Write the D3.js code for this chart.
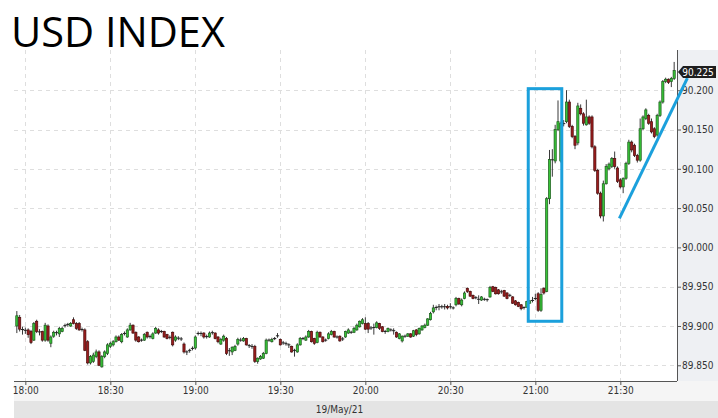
<!DOCTYPE html>
<html><head><meta charset="utf-8">
<script src="https://cdn.jsdelivr.net/npm/d3@7"></script>
<style>body{margin:0;background:#fff;overflow:hidden;} svg{display:block;}</style>
</head><body><svg id="c" width="718" height="418"></svg>
<script>
const title = "USD INDEX";
const dateLabel = "19/May/21";
const startTime = "2021-05-19T17:57:00";
const opens = [
89.900,89.911,89.896,89.895,89.895,89.893,89.882,89.906,89.893,89.893,
89.882,89.900,89.878,89.887,89.892,89.890,89.893,89.900,89.902,89.900,
89.908,89.903,89.903,89.896,89.895,89.880,89.853,89.855,89.861,89.867,
89.848,89.861,89.865,89.874,89.876,89.880,89.886,89.880,89.890,89.886,
89.895,89.901,89.892,89.886,89.882,89.882,89.892,89.886,89.884,89.891,
89.895,89.893,89.893,89.889,89.886,89.892,89.882,89.884,89.884,89.877,
89.867,89.869,89.871,89.872,89.890,89.891,89.891,89.886,89.886,89.891,
89.891,89.886,89.877,89.882,89.884,89.868,89.867,89.869,89.877,89.882,
89.881,89.884,89.875,89.874,89.874,89.855,89.858,89.859,89.865,89.882,
89.880,89.884,89.887,89.883,89.878,89.878,89.876,89.874,89.869,89.867,
89.876,89.884,89.882,89.886,89.893,89.884,89.879,89.892,89.886,89.882,
89.884,89.889,89.893,89.886,89.887,89.883,89.886,89.891,89.892,89.892,
89.895,89.899,89.903,89.903,89.903,89.897,89.898,89.898,89.903,89.899,
89.893,89.893,89.895,89.894,89.892,89.884,89.881,89.887,89.887,89.890,
89.887,89.895,89.890,89.895,89.898,89.901,89.908,89.918,89.923,89.924,
89.925,89.924,89.925,89.924,89.923,89.927,89.935,89.927,89.935,89.948,
89.944,89.939,89.936,89.934,89.933,89.934,89.934,89.937,89.950,89.949,
89.946,89.944,89.945,89.942,89.939,89.937,89.932,89.930,89.927,89.923,
89.924,89.929,89.932,89.935,89.941,89.920,89.948,89.944,90.062,90.112,
90.110,90.150,90.110,90.157,90.160,90.185,90.154,90.141,90.133,90.177,
90.170,90.156,90.166,90.166,90.128,90.098,90.069,90.040,90.081,90.100,
90.103,90.113,90.101,90.086,90.077,90.088,90.107,90.134,90.130,90.117,
90.111,90.151,90.164,90.168,90.160,90.151,90.143,90.168,90.185,90.211,
90.214,90.211,90.215];
const highs = [
89.919,89.914,89.899,89.898,89.897,89.895,89.905,89.908,89.896,89.894,
89.904,89.902,89.888,89.894,89.894,89.899,89.899,89.903,89.904,89.905,
89.911,89.905,89.905,89.898,89.897,89.882,89.863,89.866,89.870,89.869,
89.863,89.869,89.878,89.880,89.882,89.888,89.888,89.891,89.893,89.897,
89.904,89.902,89.893,89.887,89.884,89.891,89.893,89.889,89.892,89.899,
89.897,89.895,89.894,89.890,89.888,89.893,89.888,89.887,89.886,89.879,
89.869,89.871,89.874,89.888,89.893,89.893,89.892,89.889,89.893,89.894,
89.892,89.887,89.885,89.889,89.886,89.872,89.874,89.876,89.885,89.885,
89.886,89.885,89.877,89.877,89.876,89.860,89.863,89.867,89.884,89.884,
89.885,89.886,89.891,89.884,89.881,89.880,89.878,89.875,89.871,89.878,
89.886,89.886,89.888,89.895,89.894,89.885,89.894,89.893,89.887,89.884,
89.892,89.895,89.894,89.888,89.888,89.886,89.894,89.897,89.894,89.899,
89.903,89.907,89.910,89.911,89.905,89.900,89.903,89.906,89.904,89.900,
89.895,89.898,89.897,89.897,89.893,89.891,89.888,89.889,89.891,89.891,
89.895,89.896,89.898,89.901,89.903,89.910,89.918,89.927,89.926,89.928,
89.927,89.928,89.927,89.929,89.925,89.937,89.936,89.935,89.944,89.949,
89.945,89.940,89.938,89.939,89.938,89.936,89.935,89.951,89.951,89.950,
89.947,89.946,89.946,89.943,89.941,89.938,89.933,89.931,89.928,89.925,
89.932,89.933,89.937,89.941,89.943,89.948,89.949,90.064,90.124,90.125,
90.156,90.187,90.160,90.162,90.200,90.188,90.156,90.143,90.184,90.182,
90.172,90.188,90.168,90.168,90.130,90.100,90.071,90.085,90.106,90.108,
90.115,90.122,90.103,90.088,90.089,90.109,90.137,90.136,90.132,90.119,
90.164,90.168,90.177,90.170,90.164,90.153,90.170,90.187,90.213,90.216,
90.215,90.217,90.236];
const lows = [
89.891,89.893,89.889,89.890,89.885,89.877,89.881,89.891,89.888,89.880,
89.880,89.880,89.873,89.885,89.888,89.886,89.892,89.898,89.899,89.899,
89.902,89.895,89.894,89.893,89.868,89.851,89.851,89.853,89.859,89.849,
89.847,89.859,89.863,89.872,89.874,89.879,89.881,89.878,89.888,89.885,
89.894,89.890,89.880,89.879,89.880,89.881,89.884,89.884,89.883,89.890,
89.889,89.891,89.885,89.883,89.883,89.874,89.880,89.882,89.881,89.865,
89.863,89.866,89.869,89.870,89.888,89.887,89.884,89.884,89.885,89.889,
89.883,89.878,89.876,89.880,89.863,89.862,89.863,89.868,89.875,89.880,
89.880,89.875,89.872,89.871,89.853,89.852,89.857,89.858,89.864,89.880,
89.879,89.882,89.885,89.875,89.876,89.875,89.872,89.866,89.861,89.866,
89.875,89.882,89.881,89.885,89.879,89.876,89.878,89.885,89.879,89.880,
89.883,89.888,89.885,89.884,89.880,89.881,89.885,89.890,89.890,89.891,
89.894,89.898,89.902,89.895,89.891,89.895,89.889,89.897,89.895,89.892,
89.890,89.892,89.893,89.889,89.885,89.883,89.879,89.885,89.886,89.885,
89.886,89.887,89.889,89.894,89.897,89.900,89.907,89.916,89.920,89.920,
89.922,89.921,89.921,89.922,89.921,89.925,89.927,89.925,89.934,89.942,
89.937,89.934,89.934,89.928,89.932,89.932,89.931,89.936,89.943,89.940,
89.940,89.941,89.937,89.934,89.937,89.928,89.926,89.924,89.920,89.921,
89.923,89.928,89.930,89.933,89.918,89.918,89.940,89.943,90.055,90.090,
90.107,90.148,90.108,90.154,90.158,90.152,90.139,90.125,90.130,90.168,
90.155,90.155,90.156,90.126,90.096,90.067,90.037,90.033,90.080,90.098,
90.101,90.100,90.082,90.075,90.069,90.086,90.105,90.121,90.115,90.108,
90.109,90.149,90.162,90.156,90.145,90.139,90.141,90.166,90.183,90.209,
90.208,90.204,90.213];
const closes = [
89.913,89.896,89.895,89.894,89.889,89.879,89.903,89.893,89.892,89.882,
89.901,89.882,89.886,89.892,89.891,89.897,89.897,89.901,89.902,89.903,
89.903,89.897,89.895,89.895,89.869,89.853,89.861,89.863,89.867,89.850,
89.861,89.867,89.876,89.878,89.880,89.886,89.882,89.889,89.891,89.895,
89.901,89.891,89.882,89.880,89.882,89.889,89.886,89.887,89.890,89.897,
89.891,89.893,89.886,89.884,89.885,89.876,89.886,89.885,89.883,89.867,
89.867,89.869,89.872,89.886,89.891,89.890,89.886,89.887,89.891,89.892,
89.884,89.880,89.883,89.887,89.865,89.869,89.873,89.874,89.883,89.882,
89.884,89.876,89.875,89.874,89.855,89.859,89.861,89.865,89.882,89.882,
89.883,89.884,89.888,89.876,89.879,89.877,89.876,89.867,89.869,89.876,
89.884,89.884,89.886,89.893,89.880,89.878,89.892,89.886,89.880,89.882,
89.890,89.893,89.886,89.886,89.881,89.884,89.893,89.895,89.892,89.897,
89.901,89.906,89.908,89.896,89.896,89.898,89.898,89.904,89.897,89.893,
89.893,89.897,89.895,89.894,89.886,89.890,89.887,89.887,89.890,89.886,
89.894,89.889,89.897,89.900,89.901,89.909,89.916,89.923,89.924,89.925,
89.924,89.925,89.923,89.925,89.923,89.935,89.928,89.933,89.942,89.944,
89.938,89.935,89.936,89.934,89.937,89.934,89.933,89.949,89.944,89.941,
89.941,89.943,89.938,89.935,89.939,89.929,89.927,89.925,89.922,89.924,
89.931,89.932,89.933,89.935,89.920,89.940,89.942,90.062,90.112,90.111,
90.150,90.160,90.158,90.158,90.185,90.154,90.141,90.130,90.180,90.170,
90.158,90.166,90.158,90.128,90.098,90.069,90.040,90.081,90.103,90.106,
90.113,90.103,90.084,90.077,90.088,90.107,90.134,90.124,90.117,90.111,
90.151,90.166,90.175,90.158,90.147,90.141,90.168,90.185,90.211,90.214,
90.210,90.215,90.225];
const yTicks = [89.85, 89.90, 89.95, 90.00, 90.05, 90.10, 90.15, 90.20];
const xTickLabels = ["18:00","18:30","19:00","19:30","20:00","20:30","21:00","21:30"];
const xDomain = ["17:56", "21:50"];
const yDomain = [89.830, 90.2512];
// annotations (time, price)
const boxTimes = ["20:57:30", "21:09:20"];
const boxPrices = [89.906, 90.202];
const trendTimes = ["21:29:40", "21:53:40"];
const trendPrices = [90.037, 90.2155];

const day = "2021-05-19T";
const parse = d3.timeParse("%Y-%m-%dT%H:%M:%S");
const pt = s => parse(day + (s.length === 5 ? s + ":00" : s));
const t0 = parse(startTime);
const data = closes.map((c, i) => ({t: d3.timeMinute.offset(t0, i), o: opens[i], h: highs[i], l: lows[i], c}));

const svg = d3.select("#c");
const P = {l: 14, r: 677, t: 50, b: 381};
const x = d3.scaleTime().domain(xDomain.map(pt)).range([P.l, P.r]);
const y = d3.scaleLinear().domain(yDomain).range([P.b, P.t]);
const FONT = "'DejaVu Sans Condensed','DejaVu Sans',sans-serif";

// backgrounds
svg.append("rect").attr("x", 0).attr("y", 0).attr("width", 718).attr("height", 418).attr("fill", "#fff");
svg.append("rect").attr("x", P.r).attr("y", P.t).attr("width", 718 - P.r).attr("height", 401 - P.t).attr("fill", "#eef0f3");
svg.append("rect").attr("x", P.l).attr("y", P.b).attr("width", 718 - P.l).attr("height", 20).attr("fill", "#f5f5f5");
svg.append("rect").attr("x", P.l).attr("y", 401).attr("width", 718 - P.l).attr("height", 17).attr("fill", "#e4e4e4");

// grid
const xTicks = xTickLabels.map(pt);
const g = svg.append("g").attr("stroke", "#dedede").attr("stroke-dasharray", "4,4").attr("stroke-width", 1);
g.selectAll("line.h").data(yTicks).join("line")
  .attr("x1", P.l).attr("x2", P.r).attr("y1", d => Math.round(y(d)) + 0.5).attr("y2", d => Math.round(y(d)) + 0.5);
g.selectAll("line.v").data(xTicks).join("line")
  .attr("y1", P.t).attr("y2", P.b).attr("x1", d => Math.round(x(d)) + 0.5).attr("x2", d => Math.round(x(d)) + 0.5);

// axes
const ya = svg.append("g").attr("transform", `translate(${P.r},0)`)
  .call(d3.axisRight(y).tickValues(yTicks).tickSize(4).tickPadding(1).tickFormat(d3.format(".3f")));
ya.select(".domain").remove();
ya.selectAll("text").attr("font-family", FONT).attr("font-size", 10).attr("fill", "#333");
ya.selectAll("line").attr("stroke", "#555");
svg.append("line").attr("x1", P.r + 0.5).attr("x2", P.r + 0.5).attr("y1", P.t).attr("y2", P.b).attr("stroke", "#555");

const xa = svg.append("g").attr("transform", `translate(0,${P.b})`)
  .call(d3.axisBottom(x).tickValues(xTicks).tickSize(4).tickPadding(2).tickFormat(d3.timeFormat("%H:%M")));
xa.select(".domain").remove();
xa.selectAll("text").attr("font-family", FONT).attr("font-size", 10).attr("fill", "#333");
xa.selectAll("line").attr("stroke", "#555");
svg.append("line").attr("x1", P.l).attr("x2", P.r).attr("y1", P.b + 0.5).attr("y2", P.b + 0.5).attr("stroke", "#555");

svg.append("text").attr("x", (P.l + P.r) / 2 - 6).attr("y", 413).attr("text-anchor", "middle")
  .attr("font-family", FONT).attr("font-size", 10).attr("fill", "#333").text(dateLabel);

// candles
const cg = svg.append("g");
const bw = 2.2;
data.forEach(d => {
  const cx = x(d.t);
  const up = d.c >= d.o;
  cg.append("line").attr("x1", cx).attr("x2", cx).attr("y1", y(d.h)).attr("y2", y(d.l))
    .attr("stroke", "#222").attr("stroke-width", 0.9);
  const top = y(Math.max(d.o, d.c)), bot = y(Math.min(d.o, d.c));
  if (bot - top < 1.2) {
    cg.append("line").attr("x1", cx - 1.6).attr("x2", cx + 1.6).attr("y1", (top + bot) / 2).attr("y2", (top + bot) / 2)
      .attr("stroke", "#222").attr("stroke-width", 1);
  } else {
    cg.append("rect").attr("x", cx - bw / 2).attr("width", bw).attr("y", top).attr("height", bot - top)
      .attr("fill", up ? "#37c437" : "#9c1c1c").attr("stroke", up ? "#1d5a1d" : "#4a0c0c").attr("stroke-width", 0.7);
  }
});

// annotations
const blue = "#1ba0dc";
svg.append("rect")
  .attr("x", x(pt(boxTimes[0]))).attr("y", y(boxPrices[1]))
  .attr("width", x(pt(boxTimes[1])) - x(pt(boxTimes[0]))).attr("height", y(boxPrices[0]) - y(boxPrices[1]))
  .attr("fill", "none").attr("stroke", blue).attr("stroke-width", 3);
svg.append("line")
  .attr("x1", x(pt(trendTimes[0]))).attr("y1", y(trendPrices[0]))
  .attr("x2", x(pt(trendTimes[1]))).attr("y2", y(trendPrices[1]))
  .attr("stroke", blue).attr("stroke-width", 3);

// last price tag
const last = closes[closes.length - 1];
const ly = y(last) + 1.5;
svg.append("path")
  .attr("d", `M${P.r + 1},${ly} L${P.r + 6},${ly - 6} L716,${ly - 6} L716,${ly + 6} L${P.r + 6},${ly + 6} Z`)
  .attr("fill", "#1e1e1e");
svg.append("text").attr("x", 698).attr("y", ly + 3.6).attr("text-anchor", "middle")
  .attr("font-family", FONT).attr("font-size", 10).attr("fill", "#fff").text(d3.format(".3f")(last));

// title
svg.append("text").attr("x", 11).attr("y", 47).attr("font-family", "'Open Sans', sans-serif")
  .attr("font-size", 41.5).attr("fill", "#000").text(title);
</script></body></html>
